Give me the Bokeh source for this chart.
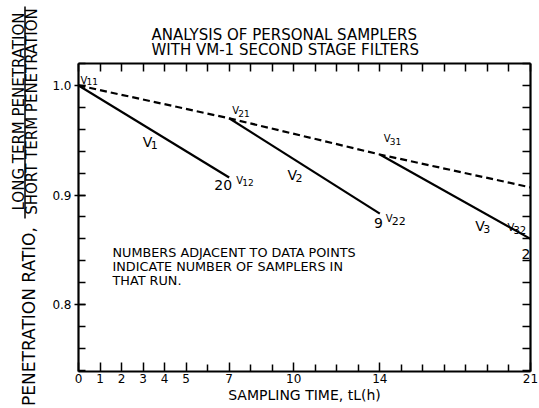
import math
from bokeh.plotting import figure
from bokeh.layouts import row, column
from bokeh.models import Label, LinearAxis, FixedTicker, Range1d, Title
from bokeh.embed import file_html
from bokeh.resources import INLINE
from bokeh.core.properties import value

FONT = "DejaVu Sans"

# ---- data ----
dashed_hours = [0, 7, 14, 21]
dashed_ratio = [1.000, 0.970, 0.937, 0.907]
run_start_hours = [0, 7, 14]
run_end_hours = [7, 14, 21]
run_start_ratio = [1.000, 0.970, 0.937]
run_end_ratio = [0.916, 0.883, 0.860]
run_samplers = ["20", "9", "2"]
x_major_ticks = [0, 1, 2, 3, 4, 5, 7, 10, 14, 21]
y_major_ticks = [0.8, 0.9, 1.0]
y_tick_labels = ["0.8", "0.9", "1.0"]
title_lines = ["ANALYSIS OF PERSONAL SAMPLERS", "WITH VM-1 SECOND STAGE FILTERS"]
y_label_main = "PENETRATION RATIO,"
y_label_num = "LONG TERM PENETRATION"
y_label_den = "SHORT TERM PENETRATION"
x_label = "SAMPLING TIME, tL(h)"
note_lines = ["NUMBERS ADJACENT TO DATA POINTS", "INDICATE NUMBER OF SAMPLERS IN", "THAT RUN."]

W, H = 539, 408
LW = 40                      # width of the side strip holding the y label
FL, FR, FT, FB = 78, 530, 63, 371  # frame edges in canvas pixels

# ---------- side strip with the rotated y-axis label ----------
side = figure(width=LW, height=H, x_range=Range1d(0, LW), y_range=Range1d(H, 0),
              output_backend="svg", toolbar_location=None, x_axis_type=None, y_axis_type=None,
              min_border=0, min_border_left=0, min_border_right=0, min_border_top=0, min_border_bottom=0)
side.outline_line_color = None
side.grid.visible = False
side.background_fill_color = "white"
side.border_fill_color = "white"
side.text(x=[28], y=[316], text=[y_label_main], angle=math.pi / 2, text_font=value(FONT),
          text_font_size="17px", text_align="center", text_baseline="middle", text_color="black")
side.text(x=[18], y=[111], text=[y_label_num], angle=math.pi / 2, text_font=value(FONT),
          text_font_size="15px", text_align="center", text_baseline="middle", text_color="black")
side.text(x=[31], y=[111], text=[y_label_den], angle=math.pi / 2, text_font=value(FONT),
          text_font_size="15px", text_align="center", text_baseline="middle", text_color="black")
side.segment(x0=[24.5], y0=[6], x1=[24.5], y1=[218], line_color="black", line_width=1.5)

# ---------- main plot ----------
p = figure(width=W - LW, height=H, x_range=Range1d(0, 21), y_range=Range1d(0.739, 1.020),
           output_backend="svg", toolbar_location=None, x_axis_type=None, y_axis_type=None,
           min_border_left=FL - LW, min_border_right=W - FR, min_border_top=FT, min_border_bottom=H - FB)
p.outline_line_color = None
p.background_fill_color = "white"
p.border_fill_color = "white"

x_minor = [h for h in range(0, 22) if h not in x_major_ticks]
y_minor = [round(0.74 + 0.02 * i, 2) for i in range(15)]


def style_axis(ax, tin, tout, min_in, min_out, labels=True):
    ax.axis_line_width = 2.2
    ax.axis_line_color = "black"
    ax.major_tick_in = tin
    ax.major_tick_out = tout
    ax.minor_tick_in = min_in
    ax.minor_tick_out = min_out
    ax.major_tick_line_width = 1.5
    ax.minor_tick_line_width = 1.5
    ax.major_label_text_font = FONT
    ax.axis_label_text_font = FONT
    ax.axis_label_text_font_style = "normal"
    ax.major_label_text_color = "black"
    ax.axis_label_text_color = "black"
    if not labels:
        ax.major_label_overrides = {t: "" for t in ax.ticker.ticks}
        ax.major_label_standoff = 0


bx = LinearAxis(ticker=FixedTicker(ticks=x_major_ticks, minor_ticks=x_minor))
style_axis(bx, 9, 0, 7, 0)
bx.major_label_text_font_size = "12px"
bx.major_label_standoff = 2
bx.axis_label = x_label
bx.axis_label_text_font_size = "14px"
bx.axis_label_standoff = 1
p.add_layout(bx, "below")

tx = LinearAxis(ticker=FixedTicker(ticks=list(range(0, 22)), minor_ticks=[]))
style_axis(tx, 8, 0, 0, 0, labels=False)
p.add_layout(tx, "above")

ly = LinearAxis(ticker=FixedTicker(ticks=y_major_ticks, minor_ticks=y_minor))
style_axis(ly, 7, 4, 7, 0)
ly.major_label_overrides = {v: s for v, s in zip(y_major_ticks, y_tick_labels)}
ly.major_label_text_font_size = "12px"
ly.major_label_standoff = 3
p.add_layout(ly, "left")

ry = LinearAxis(ticker=FixedTicker(ticks=y_minor, minor_ticks=[]))
style_axis(ry, 8, 0, 0, 0, labels=False)
p.add_layout(ry, "right")

# title: one two-line title, left aligned above the frame
p.add_layout(Title(text="\n".join(title_lines), align="left", offset=73, text_font=FONT,
                   text_font_size="15px", text_font_style="normal", text_color="black",
                   text_line_height=0.85, standoff=8), "above")

# dashed overall line
p.line(dashed_hours, dashed_ratio, line_color="black", line_width=2.2, line_dash="7 4")
# solid run lines
for xs, xe, ys, ye in zip(run_start_hours, run_end_hours, run_start_ratio, run_end_ratio):
    p.line([xs, xe], [ys, ye], line_color="black", line_width=2.2)


def txt(x, y, s, size, dx, dy, align="left", baseline="top"):
    p.text(x=[x], y=[y], text=[s], text_font=value(FONT), text_font_size=size,
           x_offset=dx, y_offset=dy, text_align=align, text_baseline=baseline,
           text_color="black")


def vlabel(x, y, sub, dx, dy, vsize="10px", ssize="9px", sdx=6, sdy=4):
    txt(x, y, "V", vsize, dx, dy)
    txt(x, y, sub, ssize, dx + sdx, dy + sdy)


# point labels
vlabel(dashed_hours[0], dashed_ratio[0], "11", 2, -10, sdy=3)
vlabel(dashed_hours[1], dashed_ratio[1], "21", 3, -13, sdx=6, sdy=5)
vlabel(dashed_hours[2], dashed_ratio[2], "31", 4, -21, sdx=6, sdy=5)
vlabel(run_end_hours[0], run_end_ratio[0], "12", 7, -2)
vlabel(run_end_hours[1], run_end_ratio[1], "22", 6, -1, ssize="11px")
vlabel(run_end_hours[2], run_end_ratio[2], "32", -23, -17, ssize="10px")
# sampler counts
txt(run_end_hours[0], run_end_ratio[0], run_samplers[0], "14px", 3, 3, align="right")
txt(run_end_hours[1], run_end_ratio[1], run_samplers[1], "14px", 3, 4, align="right")
txt(run_end_hours[2], run_end_ratio[2], run_samplers[2], "14px", 0, 10, align="right")

# run labels near the middle of each run line
mids = [((a + b) / 2, (c + d) / 2) for a, b, c, d in zip(run_start_hours, run_end_hours, run_start_ratio, run_end_ratio)]
run_label_offsets = [(-11, 3), (-17, 1), (20, 21)]
for i, ((mx, my), (dx, dy)) in enumerate(zip(mids, run_label_offsets)):
    vlabel(mx, my, str(i + 1), dx, dy, vsize="14px", ssize="11px", sdx=8, sdy=7)


def frame_label(px, py, s, size, align="left", baseline="middle"):
    # px, py: canvas pixels from the top-left; Label screen units are frame-relative
    lab = Label(x=px - FL, y=FB - py, x_units="screen", y_units="screen", text=s,
                text_font=FONT, text_font_size=size,
                text_align=align, text_baseline=baseline, text_color="black")
    p.add_layout(lab)


for i, s in enumerate(note_lines):
    frame_label(112, 252 + 14 * i, s, "12.8px")

layout = row(column(side, spacing=0), p, spacing=0)
open("out.html", "w").write(file_html(layout, INLINE))
